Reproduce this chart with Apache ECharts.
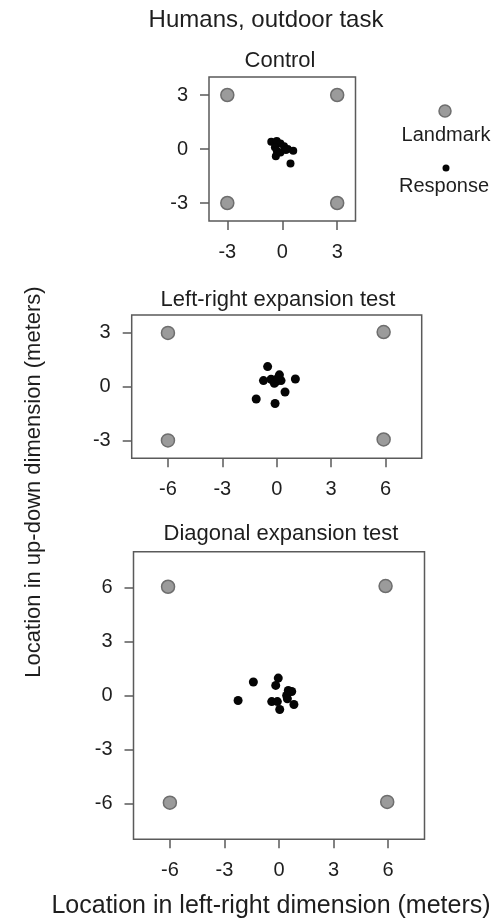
<!DOCTYPE html>
<html>
<head>
<meta charset="utf-8">
<script src="https://cdn.jsdelivr.net/npm/echarts@6/dist/echarts.min.js"></script>
<style>
  html, body { margin: 0; padding: 0; background: #fff; }
  #main { width: 497px; height: 920px; }
</style>
</head>
<body>
<div id="main"></div>
<script>
// landmark positions (meters)
var controlLandX = [-3, 3, -3, 3];
var controlLandY = [3, 3, -3, -3];
var lrLandX = [-6, 5.9, -6, 5.9];
var lrLandY = [3, 3.05, -3, -2.95];
var diagLandX = [-6.1, 5.86, -6, 5.95];
var diagLandY = [6.05, 6.09, -5.96, -5.92];

// responses
var controlRespX = [-0.6, -0.3, -0.1, 0.1, -0.4, -0.3, -0.35, -0.1, 0.3, 0.6, 0.2, 0.45];
var controlRespY = [0.4, 0.45, 0.3, 0.15, 0.1, -0.1, -0.4, -0.2, 0.0, -0.1, -0.05, -0.8];
var lrRespX = [-0.5, -0.73, -0.31, 0.15, -0.03, -0.13, 0.24, 1.03, 0.46, -1.13, -0.09, 0.06];
var lrRespY = [1.12, 0.34, 0.41, 0.66, 0.28, 0.19, 0.34, 0.43, -0.3, -0.69, -0.94, 0.47];
var diagRespX = [-0.04, -1.41, -0.18, 0.51, 0.7, 0.42, 0.46, -2.25, -0.4, -0.09, 0.82, 0.04];
var diagRespY = [0.97, 0.75, 0.56, 0.28, 0.22, 0.0, -0.18, -0.28, -0.34, -0.34, -0.5, -0.78];

// tick labels
var controlTicks = [-3, 0, 3];
var lrXTicks = [-6, -3, 0, 3, 6];
var lrYTicks = [-3, 0, 3];
var diagTicks = [-6, -3, 0, 3, 6];

var FONT = 'Liberation Sans, Arial, sans-serif';
var INK = '#1e1e1e';
var BORDER = '#5a5a5a';

function zip(xs, ys) {
    return xs.map(function (x, i) { return [x, ys[i]]; });
}

function axis(idx, min, max, ticks, isX) {
    return {
        type: 'value',
        gridIndex: idx,
        min: min,
        max: max,
        axisLine: { show: false, onZero: false },
        splitLine: { show: false },
        axisTick: {
            show: true,
            inside: false,
            length: 9,
            customValues: ticks,
            lineStyle: { color: BORDER, width: 1.5 }
        },
        axisLabel: {
            customValues: ticks,
            color: INK,
            fontSize: 20,
            fontFamily: FONT,
            margin: isX ? 21 : 21
        }
    };
}

function landmarks(idx, xs, ys) {
    return {
        type: 'scatter', xAxisIndex: idx, yAxisIndex: idx,
        data: zip(xs, ys),
        symbolSize: 13,
        z: 2,
        itemStyle: { color: '#9b9b9b', borderColor: '#6e6e6e', borderWidth: 1.5, opacity: 1 }
    };
}

function responses(idx, xs, ys, size) {
    return {
        type: 'scatter', xAxisIndex: idx, yAxisIndex: idx,
        data: zip(xs, ys),
        symbolSize: size,
        z: 3,
        itemStyle: { color: '#050505', opacity: 1 }
    };
}

function label(text, x, y, size, rot) {
    return {
        type: 'text', x: x, y: y, rotation: rot || 0,
        style: {
            text: text, fill: INK, fontSize: size, fontFamily: FONT,
            textAlign: 'center', textVerticalAlign: 'middle',
            align: 'center', verticalAlign: 'middle'
        }
    };
}

var chart = echarts.init(document.getElementById('main'));
chart.setOption({
    animation: false,
    backgroundColor: '#fff',
    grid: [
        { left: 209, top: 77, width: 146.5, height: 144, show: true, borderColor: BORDER, borderWidth: 1.5 },
        { left: 131.7, top: 315, width: 290, height: 143.3, show: true, borderColor: BORDER, borderWidth: 1.5 },
        { left: 133.5, top: 551.7, width: 291, height: 287.6, show: true, borderColor: BORDER, borderWidth: 1.5 }
    ],
    xAxis: [
        axis(0, -4, 4, controlTicks, true),
        axis(1, -8, 8, lrXTicks, true),
        axis(2, -8, 8, diagTicks, true)
    ],
    yAxis: [
        axis(0, -4, 4, controlTicks, false),
        axis(1, -4, 4, lrYTicks, false),
        axis(2, -8, 8, diagTicks, false)
    ],
    series: [
        landmarks(0, controlLandX, controlLandY),
        responses(0, controlRespX, controlRespY, 8),
        landmarks(1, lrLandX, lrLandY),
        responses(1, lrRespX, lrRespY, 9),
        landmarks(2, diagLandX, diagLandY),
        responses(2, diagRespX, diagRespY, 9)
    ],
    graphic: [
        label('Humans, outdoor task', 266, 20, 24),
        label('Control', 280, 61, 22),
        label('Left-right expansion test', 278, 300, 22),
        label('Diagonal expansion test', 281, 534, 22),
        label('Location in up-down dimension (meters)', 34, 482, 22, Math.PI / 2),
        label('Location in left-right dimension (meters)', 271, 906, 25),
        { type: 'circle', shape: { cx: 445, cy: 111, r: 6 },
          style: { fill: '#9b9b9b', stroke: '#6e6e6e', lineWidth: 1.5 } },
        label('Landmark', 446, 135, 20),
        { type: 'circle', shape: { cx: 446, cy: 168, r: 3.5 }, style: { fill: '#050505' } },
        label('Response', 444, 186, 20)
    ]
});
</script>
</body>
</html>
